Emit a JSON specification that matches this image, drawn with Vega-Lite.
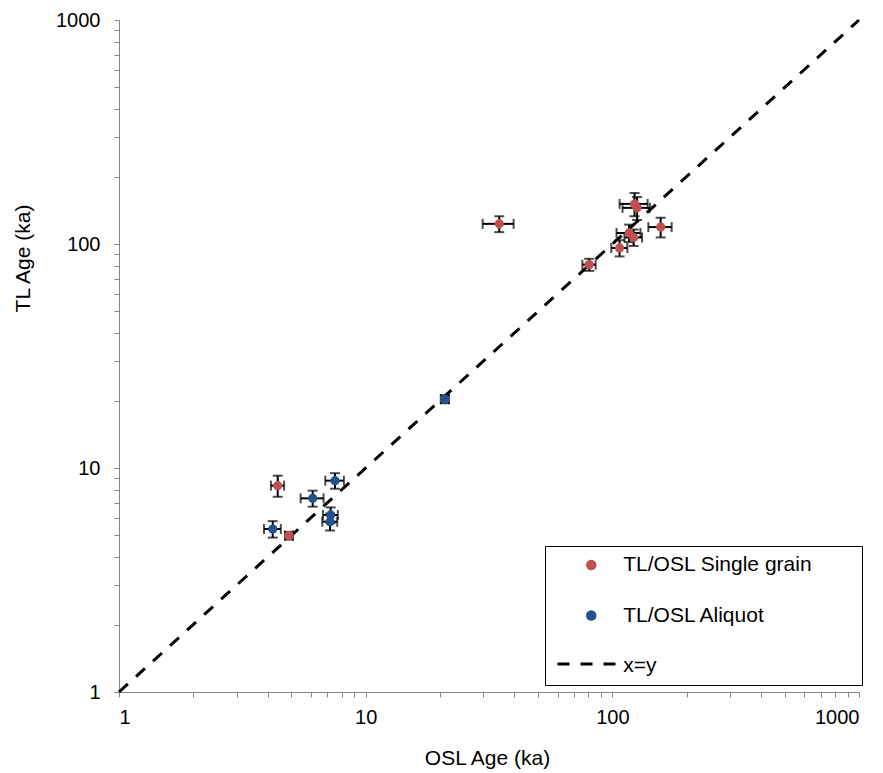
{
  "$schema": "https://vega.github.io/schema/vega-lite/v6.json",
  "width": 740,
  "height": 672,
  "autosize": {"type": "none"},
  "padding": {"left": 119, "top": 20, "right": 24, "bottom": 81},
  "background": "white",
  "config": {
    "view": {"stroke": null},
    "font": "Liberation Sans",
    "axis": {
      "grid": false,
      "domainColor": "#868686",
      "tickColor": "#868686",
      "tickSize": 5,
      "labelColor": "black",
      "labelFont": "Liberation Sans",
      "labelFontSize": 20,
      "titleFont": "Liberation Sans",
      "titleFontSize": 21,
      "titleFontWeight": "normal",
      "titleColor": "black",
      "labelOverlap": false
    }
  },
  "datasets": {
    "ages": [
      {"series": "TL/OSL Single grain", "osl": 34.8, "osl_lo": 29.8, "osl_hi": 39.8, "tl": 123, "tl_lo": 113, "tl_hi": 133},
      {"series": "TL/OSL Single grain", "osl": 123, "osl_lo": 107, "osl_hi": 139, "tl": 151, "tl_lo": 133, "tl_hi": 169},
      {"series": "TL/OSL Single grain", "osl": 126, "osl_lo": 110, "osl_hi": 142, "tl": 145, "tl_lo": 128, "tl_hi": 162},
      {"series": "TL/OSL Single grain", "osl": 157, "osl_lo": 140, "osl_hi": 174, "tl": 119, "tl_lo": 107, "tl_hi": 131},
      {"series": "TL/OSL Single grain", "osl": 117, "osl_lo": 104, "osl_hi": 130, "tl": 112, "tl_lo": 102, "tl_hi": 122},
      {"series": "TL/OSL Single grain", "osl": 122, "osl_lo": 112, "osl_hi": 132, "tl": 107, "tl_lo": 98, "tl_hi": 116},
      {"series": "TL/OSL Single grain", "osl": 107, "osl_lo": 99, "osl_hi": 115, "tl": 96, "tl_lo": 88, "tl_hi": 104},
      {"series": "TL/OSL Single grain", "osl": 80.6, "osl_lo": 75.6, "osl_hi": 85.6, "tl": 80.9, "tl_lo": 75.9, "tl_hi": 85.9},
      {"series": "TL/OSL Single grain", "osl": 4.40, "osl_lo": 4.13, "osl_hi": 4.67, "tl": 8.34, "tl_lo": 7.44, "tl_hi": 9.24},
      {"series": "TL/OSL Single grain", "osl": 4.89, "osl_lo": 4.71, "osl_hi": 5.07, "tl": 4.99, "tl_lo": 4.79, "tl_hi": 5.19},
      {"series": "TL/OSL Aliquot", "osl": 20.96, "osl_lo": 20.16, "osl_hi": 21.76, "tl": 20.3, "tl_lo": 19.45, "tl_hi": 21.15},
      {"series": "TL/OSL Aliquot", "osl": 7.51, "osl_lo": 6.86, "osl_hi": 8.16, "tl": 8.78, "tl_lo": 8.08, "tl_hi": 9.48},
      {"series": "TL/OSL Aliquot", "osl": 6.10, "osl_lo": 5.45, "osl_hi": 6.75, "tl": 7.32, "tl_lo": 6.72, "tl_hi": 7.92},
      {"series": "TL/OSL Aliquot", "osl": 7.21, "osl_lo": 6.71, "osl_hi": 7.71, "tl": 6.17, "tl_lo": 5.67, "tl_hi": 6.67},
      {"series": "TL/OSL Aliquot", "osl": 7.17, "osl_lo": 6.67, "osl_hi": 7.67, "tl": 5.76, "tl_lo": 5.26, "tl_hi": 6.26},
      {"series": "TL/OSL Aliquot", "osl": 4.20, "osl_lo": 3.87, "osl_hi": 4.53, "tl": 5.34, "tl_lo": 4.89, "tl_hi": 5.79}
    ],
    "identity": [
      {"x_from": 1, "y_from": 1, "x_to": 1000, "y_to": 1000}
    ]
  },
  "layer": [
    {
      "data": {"name": "identity"},
      "mark": {"type": "rule", "color": "black", "strokeWidth": 3, "strokeCap": "butt"},
      "encoding": {
        "x": {"field": "x_from", "type": "quantitative", "title": "OSL Age (ka)", "scale": {"type": "log", "domain": [1, 1000], "nice": false},
          "axis": {
            "values": [1,2,3,4,5,6,7,8,9,10,20,30,40,50,60,70,80,90,100,200,300,400,500,600,700,800,900,1000],
            "format": "d",
            "labelExpr": "datum.value == 1 || datum.value == 10 || datum.value == 100 || datum.value == 1000 ? datum.label : ''",
            "labelPadding": 10.5,
            "title": "OSL Age (ka)",
            "titleX": 368,
            "titleY": 72,
            "titleAlign": "center",
            "titleBaseline": "alphabetic"
          }},
        "y": {"field": "y_from", "type": "quantitative", "title": "TL Age (ka)", "scale": {"type": "log", "domain": [1, 1000], "nice": false},
          "axis": {
            "values": [1,2,3,4,5,6,7,8,9,10,20,30,40,50,60,70,80,90,100,200,300,400,500,600,700,800,900,1000],
            "format": "d",
            "labelExpr": "datum.value == 1 || datum.value == 10 || datum.value == 100 || datum.value == 1000 ? datum.label : ''",
            "labelPadding": 14,
            "title": "TL Age (ka)",
            "titleX": -90,
            "titleY": 238,
            "titleAngle": -90,
            "titleAlign": "center",
            "titleBaseline": "alphabetic"
          }},
        "x2": {"field": "x_to", "title": "OSL Age (ka)"},
        "y2": {"field": "y_to", "title": "TL Age (ka)"},
        "strokeDash": {
          "datum": "x=y",
          "type": "nominal",
          "scale": {"domain": ["x=y"], "range": [[12, 11]]},
          "legend": {
            "orient": "none",
            "legendX": 437,
            "legendY": 613.5,
            "zindex": 2,
            "title": null,
            "padding": 0,
            "symbolType": "stroke",
            "symbolSize": 3364,
            "symbolStrokeWidth": 3,
            "symbolStrokeColor": "black",
            "symbolDash": [12, 11],
            "labelExpr": "''"
          }
        }
      }
    },
    {
      "data": {"name": "ages"},
      "mark": {"type": "errorbar", "color": "black", "thickness": 2, "ticks": {"size": 10, "thickness": 2, "color": "black"}},
      "encoding": {
        "x": {"field": "osl_lo", "type": "quantitative", "title": "OSL Age (ka)"},
        "x2": {"field": "osl_hi", "title": "OSL Age (ka)"},
        "y": {"field": "tl", "type": "quantitative", "title": "TL Age (ka)"}
      }
    },
    {
      "data": {"name": "ages"},
      "mark": {"type": "errorbar", "color": "black", "thickness": 2, "ticks": {"size": 10, "thickness": 2, "color": "black"}},
      "encoding": {
        "y": {"field": "tl_lo", "type": "quantitative", "title": "TL Age (ka)"},
        "y2": {"field": "tl_hi", "title": "TL Age (ka)"},
        "x": {"field": "osl", "type": "quantitative", "title": "OSL Age (ka)"}
      }
    },
    {
      "data": {"name": "ages"},
      "mark": {"type": "point", "filled": true, "opacity": 1, "size": 85, "shape": "circle"},
      "encoding": {
        "x": {"field": "osl", "type": "quantitative", "title": "OSL Age (ka)"},
        "y": {"field": "tl", "type": "quantitative", "title": "TL Age (ka)"},
        "color": {
          "field": "series",
          "type": "nominal",
          "scale": {"domain": ["TL/OSL Single grain", "TL/OSL Aliquot", "x=y"], "range": ["#C0504D", "#23508E", "transparent"]},
          "legend": {
            "orient": "none",
            "legendX": 426,
            "legendY": 526,
            "zindex": 1,
            "title": null,
            "strokeColor": "black",
            "fillColor": "white",
            "padding": 8.5,
            "rowPadding": 28.5,
            "labelFont": "Liberation Sans",
            "labelFontSize": 21,
            "labelColor": "black",
            "labelLimit": 400,
            "symbolSize": 110,
            "symbolOffset": 27.25,
            "labelOffset": 21.5,
            "labelExpr": "datum.label == 'TL/OSL Single grain' ? datum.label + '\u00a0\u00a0\u00a0\u00a0\u00a0\u00a0\u00a0\u200b' : datum.label"
          }
        }
      }
    }
  ]
}
